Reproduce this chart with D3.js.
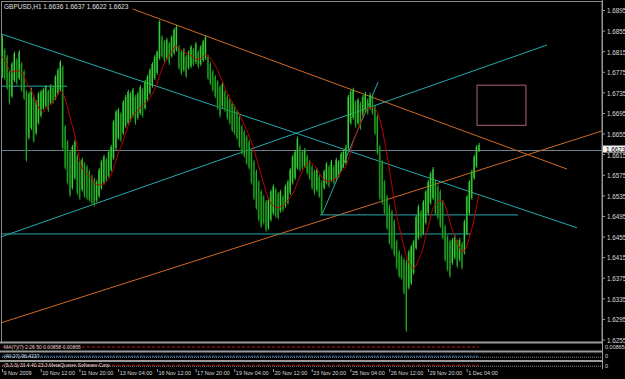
<!DOCTYPE html>
<html>
<head>
<meta charset="utf-8">
<script src="https://cdn.jsdelivr.net/npm/d3@7"></script>
<style>
  body { margin: 0; background: #000; }
  svg { display: block; }
</style>
</head>
<body>
<div id="chart"></div>
<script>
/* global d3 */
var w = 625;
var h = 379;

// GBPUSD H1, grouped by two hours (bar highs and lows)
var hi = [1.6846, 1.6821, 1.6808, 1.6779, 1.6794, 1.6814, 1.6802, 1.6817, 1.6794, 1.6779,
  1.6740, 1.6736, 1.6744, 1.6730, 1.6720, 1.6736, 1.6740, 1.6744, 1.6749, 1.6740,
  1.6751, 1.6748, 1.6769, 1.6782, 1.6798, 1.6788, 1.6672, 1.6643, 1.6623, 1.6633,
  1.6643, 1.6614, 1.6604, 1.6608, 1.6600, 1.6594, 1.6585, 1.6575, 1.6569, 1.6565,
  1.6588, 1.6604, 1.6614, 1.6608, 1.6623, 1.6633, 1.6682, 1.6701, 1.6705, 1.6697,
  1.6720, 1.6730, 1.6740, 1.6736, 1.6744, 1.6730, 1.6736, 1.6749, 1.6744, 1.6759,
  1.6769, 1.6782, 1.6794, 1.6808, 1.6817, 1.6876, 1.6846, 1.6837, 1.6841, 1.6833,
  1.6846, 1.6860, 1.6866, 1.6827, 1.6817, 1.6821, 1.6808, 1.6817, 1.6827, 1.6821,
  1.6833, 1.6817, 1.6827, 1.6837, 1.6846, 1.6808, 1.6794, 1.6779, 1.6769, 1.6759,
  1.6749, 1.6755, 1.6740, 1.6730, 1.6724, 1.6717, 1.6711, 1.6701, 1.6691, 1.6672,
  1.6662, 1.6652, 1.6643, 1.6623, 1.6604, 1.6585, 1.6565, 1.6546, 1.6536, 1.6526,
  1.6530, 1.6546, 1.6556, 1.6550, 1.6542, 1.6546, 1.6536, 1.6556, 1.6565, 1.6588,
  1.6614, 1.6623, 1.6649, 1.6633, 1.6623, 1.6627, 1.6614, 1.6604, 1.6594, 1.6585,
  1.6588, 1.6575, 1.6565, 1.6585, 1.6600, 1.6594, 1.6604, 1.6594, 1.6608, 1.6604,
  1.6619, 1.6623, 1.6633, 1.6730, 1.6740, 1.6744, 1.6720, 1.6724, 1.6717, 1.6730,
  1.6736, 1.6724, 1.6734, 1.6730, 1.6711, 1.6691, 1.6633, 1.6604, 1.6565, 1.6536,
  1.6517, 1.6507, 1.6488, 1.6449, 1.6429, 1.6420, 1.6414, 1.6410, 1.6429, 1.6439,
  1.6449, 1.6497, 1.6517, 1.6507, 1.6526, 1.6546, 1.6565, 1.6581, 1.6590, 1.6565,
  1.6556, 1.6546, 1.6526, 1.6478, 1.6458, 1.6449, 1.6452, 1.6458, 1.6449, 1.6452,
  1.6445, 1.6488, 1.6536, 1.6565, 1.6585, 1.6614, 1.6633, 1.6637];

var lo = [1.6763, 1.6759, 1.6740, 1.6711, 1.6724, 1.6755, 1.6749, 1.6759, 1.6736, 1.6720,
  1.6600, 1.6643, 1.6662, 1.6637, 1.6652, 1.6672, 1.6686, 1.6701, 1.6705, 1.6697,
  1.6711, 1.6713, 1.6720, 1.6730, 1.6736, 1.6623, 1.6585, 1.6556, 1.6532, 1.6546,
  1.6565, 1.6536, 1.6526, 1.6542, 1.6530, 1.6526, 1.6523, 1.6517, 1.6513, 1.6521,
  1.6530, 1.6546, 1.6556, 1.6561, 1.6569, 1.6581, 1.6604, 1.6623, 1.6643, 1.6639,
  1.6652, 1.6666, 1.6672, 1.6678, 1.6686, 1.6672, 1.6682, 1.6691, 1.6686, 1.6701,
  1.6717, 1.6730, 1.6744, 1.6759, 1.6769, 1.6798, 1.6802, 1.6794, 1.6798, 1.6788,
  1.6802, 1.6808, 1.6814, 1.6779, 1.6769, 1.6775, 1.6763, 1.6779, 1.6782, 1.6786,
  1.6790, 1.6782, 1.6786, 1.6794, 1.6798, 1.6759, 1.6749, 1.6736, 1.6724, 1.6701,
  1.6686, 1.6705, 1.6697, 1.6682, 1.6672, 1.6658, 1.6652, 1.6643, 1.6627, 1.6614,
  1.6608, 1.6594, 1.6585, 1.6556, 1.6526, 1.6507, 1.6484, 1.6472, 1.6478, 1.6464,
  1.6468, 1.6484, 1.6497, 1.6491, 1.6488, 1.6501, 1.6503, 1.6511, 1.6517, 1.6536,
  1.6556, 1.6565, 1.6585, 1.6581, 1.6585, 1.6588, 1.6575, 1.6565, 1.6546, 1.6536,
  1.6542, 1.6530, 1.6497, 1.6546, 1.6556, 1.6550, 1.6561, 1.6556, 1.6565, 1.6569,
  1.6581, 1.6588, 1.6594, 1.6623, 1.6672, 1.6682, 1.6666, 1.6672, 1.6662, 1.6686,
  1.6697, 1.6691, 1.6701, 1.6691, 1.6652, 1.6614, 1.6526, 1.6517, 1.6497, 1.6468,
  1.6439, 1.6429, 1.6416, 1.6391, 1.6375, 1.6371, 1.6342, 1.6270, 1.6352, 1.6361,
  1.6381, 1.6429, 1.6449, 1.6452, 1.6458, 1.6478, 1.6497, 1.6517, 1.6526, 1.6497,
  1.6488, 1.6472, 1.6449, 1.6406, 1.6387, 1.6375, 1.6400, 1.6410, 1.6394, 1.6406,
  1.6391, 1.6420, 1.6458, 1.6497, 1.6526, 1.6565, 1.6588, 1.6619];

var priceTicks = d3.range(0, 17).map(function (k) { return 1.6255 + k * 0.004; });
var timeTicks = [0, 16, 32, 48, 64, 80, 96, 112, 128, 144, 160, 176, 192];
var timeLabels = ['9 Nov 2009', '10 Nov 12:00', '11 Nov 20:00', '13 Nov 04:00', '16 Nov 12:00',
  '17 Nov 20:00', '19 Nov 04:00', '20 Nov 12:00', '23 Nov 20:00', '25 Nov 04:00',
  '26 Nov 12:00', '29 Nov 20:00', '1 Dec 04:00'];
var lastPrice = 1.6623;
var title = 'GBPUSD,H1  1.6636 1.6637 1.6622 1.6623';

// objects drawn on the chart: bar index / price pairs
var orangeLines = [
  { i1: 54, p1: 1.6897, i2: 233.5, p2: 1.6586 },
  { i1: 0, p1: 1.6288, i2: 247.9, p2: 1.6660 }
];
var cyanLines = [
  { i1: 0, p1: 1.6848, i2: 237.6, p2: 1.6472 },
  { i1: 0, p1: 1.6455, i2: 225.2, p2: 1.6827 },
  { i1: 132.2, p1: 1.6497, i2: 155.4, p2: 1.6755 },
  { i1: 0, p1: 1.6460, i2: 193.8, p2: 1.6460 },
  { i1: 131.4, p1: 1.6497, i2: 213.2, p2: 1.6497 },
  { i1: 0, p1: 1.6747, i2: 26.9, p2: 1.6747 }
];
var box = { i1: 196.3, p1: 1.6749, i2: 216.5, p2: 1.6671 };

var maPeriod = 8;

var font = 'Liberation Sans, Arial, sans-serif';

var svg = d3.select('#chart')
  .append('svg')
  .attr('width', w)
  .attr('height', h)
  .style('background', '#000');

var x = d3.scaleLinear().domain([0, 197]).range([2, 2 + 197 * 2.42]);
var y = d3.scaleLinear().domain([1.6255, 1.6895]).range([339.5, 10]);

var plotRight = 602;

// chart frame
svg.append('rect')
  .attr('x', 1.5).attr('y', 1.5)
  .attr('width', plotRight - 1.5).attr('height', 341)
  .attr('fill', 'none')
  .attr('stroke', '#8a8a8a');

var plot = svg.append('g');

// bid line
plot.append('line')
  .attr('x1', 2).attr('x2', plotRight)
  .attr('y1', Math.round(y(lastPrice)) + 0.5).attr('y2', Math.round(y(lastPrice)) + 0.5)
  .attr('stroke', '#6b7f8a');

// trend lines
plot.selectAll('line.orange')
  .data(orangeLines)
  .enter()
  .append('line')
  .attr('class', 'orange')
  .attr('x1', function (d) { return x(d.i1); })
  .attr('y1', function (d) { return y(d.p1); })
  .attr('x2', function (d) { return Math.min(x(d.i2), plotRight); })
  .attr('y2', function (d) { return y(d.p2); })
  .attr('stroke', '#cf6a24')
  .attr('stroke-width', 1);

plot.selectAll('line.cyan')
  .data(cyanLines)
  .enter()
  .append('line')
  .attr('class', 'cyan')
  .attr('x1', function (d) { return x(d.i1); })
  .attr('y1', function (d) { return y(d.p1); })
  .attr('x2', function (d) { return x(d.i2); })
  .attr('y2', function (d) { return y(d.p2); })
  .attr('stroke', '#27a9ad')
  .attr('stroke-width', 1);

plot.append('rect')
  .attr('x', x(box.i1))
  .attr('y', y(box.p1))
  .attr('width', x(box.i2) - x(box.i1))
  .attr('height', y(box.p2) - y(box.p1))
  .attr('fill', 'none')
  .attr('stroke', '#b0607c');

// price bars
var bars = hi.map(function (v, i) {
  var mid = (v + lo[i]) / 2;
  var prev = i > 0 ? (hi[i - 1] + lo[i - 1]) / 2 : mid;
  return { i: i, hi: v, lo: lo[i], up: mid >= prev };
});

var bar = plot.selectAll('g.bar')
  .data(bars)
  .enter()
  .append('g')
  .attr('class', 'bar');

bar.append('rect')
  .attr('x', function (d) { return x(d.i) - 0.8; })
  .attr('y', function (d) { return y(d.hi) + 2; })
  .attr('width', 1.6)
  .attr('height', function (d) { return Math.max(1, y(d.lo) - y(d.hi) - 4); })
  .attr('fill', function (d) { return d.up ? '#1b9a1b' : '#0d6e10'; });

bar.append('line')
  .attr('x1', function (d) { return x(d.i) + 0.4; })
  .attr('x2', function (d) { return x(d.i) + 0.4; })
  .attr('y1', function (d) { return y(d.hi); })
  .attr('y2', function (d) { return y(d.lo); })
  .attr('stroke', function (d) { return d.up ? '#46ea46' : '#2bbd2b'; })
  .attr('stroke-width', 0.8);

// moving average of bar mid prices
var ma = bars.map(function (d, i) {
  var from = Math.max(0, i - maPeriod + 1);
  var s = bars.slice(from, i + 1);
  return { i: i, v: d3.mean(s, function (b) { return (b.hi + b.lo) / 2; }) };
});

plot.append('path')
  .datum(ma)
  .attr('fill', 'none')
  .attr('stroke', '#c00000')
  .attr('stroke-width', 1)
  .attr('d', d3.line()
    .x(function (d) { return x(d.i); })
    .y(function (d) { return y(d.v); })
    .curve(d3.curveMonotoneX));

// title
svg.append('text')
  .attr('x', 4).attr('y', 8.5)
  .attr('fill', '#e0e0e0')
  .style('font-family', font)
  .style('font-size', '6.5px')
  .text(title);

// price axis
var yAxis = svg.append('g')
  .attr('transform', 'translate(' + plotRight + ',0)')
  .call(d3.axisRight(y).tickValues(priceTicks).tickSize(3).tickFormat(d3.format('.4f')));
yAxis.select('.domain').remove();
yAxis.selectAll('line').attr('stroke', '#9a9a9a');
yAxis.selectAll('text')
  .attr('x', 5)
  .attr('dy', '0.45em')
  .attr('fill', '#dcdcdc')
  .style('font-family', font)
  .style('font-size', '6.3px');

svg.append('line')
  .attr('x1', plotRight + 0.5).attr('x2', plotRight + 0.5)
  .attr('y1', 0).attr('y2', 369)
  .attr('stroke', '#9a9a9a');

// last price label, drawn over the tick label below it as in the terminal
svg.append('rect')
  .attr('x', plotRight + 1).attr('y', y(lastPrice) - 4.5)
  .attr('width', 22).attr('height', 7)
  .attr('fill', '#f4f4f4');
svg.append('text')
  .attr('x', plotRight + 4).attr('y', y(lastPrice) + 1.6)
  .attr('fill', '#000')
  .style('font-family', font)
  .style('font-size', '6.3px')
  .text(d3.format('.4f')(lastPrice));

// indicator sub-windows
var panels = [
  { top: 343, bottom: 351, label: 'MA(7)(7) 2.26 50 0.00858 0.00865', value: '0.00865' },
  { top: 352, bottom: 360.5, label: '(40 27) 96.4237', value: '0' },
  { top: 361.5, bottom: 369, label: '(5,3,3) 33.4 40 23.3 MetaQuotes Software Corp.', value: '0' }
];

var panel = svg.selectAll('g.panel')
  .data(panels)
  .enter()
  .append('g')
  .attr('class', 'panel');

panel.append('line')
  .attr('x1', 0).attr('x2', plotRight)
  .attr('y1', function (d) { return d.top - 0.5; })
  .attr('y2', function (d) { return d.top - 0.5; })
  .attr('stroke', '#9a9a9a')
  .attr('stroke-width', 2);

panel.append('line')
  .attr('x1', 2).attr('x2', plotRight)
  .attr('y1', function (d) { return (d.top + d.bottom) / 2 + 1; })
  .attr('y2', function (d) { return (d.top + d.bottom) / 2 + 1; })
  .attr('stroke', function (d, i) { return i === 0 ? 'none' : '#8a8a8a'; })
  .attr('stroke-dasharray', '1,1');

panel.append('line')
  .attr('x1', 2).attr('x2', x(197))
  .attr('y1', function (d) { return (d.top + d.bottom) / 2; })
  .attr('y2', function (d) { return (d.top + d.bottom) / 2; })
  .attr('stroke', function (d, i) { return i === 1 ? '#2b7fd0' : '#c01818'; })
  .attr('stroke-dasharray', function (d, i) { return i === 1 ? '2,1' : '3,2'; });

panel.append('text')
  .attr('x', 4)
  .attr('y', function (d) { return d.top + 5.5; })
  .attr('fill', '#cfcfcf')
  .style('font-family', font)
  .style('font-size', '5px')
  .text(function (d) { return d.label; });

panel.append('text')
  .attr('x', plotRight + 3)
  .attr('y', function (d) { return d.top + 6; })
  .attr('fill', '#dcdcdc')
  .style('font-family', font)
  .style('font-size', '5.5px')
  .text(function (d) { return d.value; });

// time axis
var xAxis = svg.append('g')
  .attr('transform', 'translate(0,369)')
  .call(d3.axisBottom(x).tickValues(timeTicks).tickSize(3)
    .tickFormat(function (d, i) { return timeLabels[i]; }));
xAxis.select('.domain').remove();
xAxis.selectAll('line').attr('stroke', '#9a9a9a');
xAxis.selectAll('text')
  .attr('text-anchor', 'start')
  .attr('x', 1)
  .attr('y', 2)
  .attr('dy', '0.71em')
  .attr('fill', '#dcdcdc')
  .style('font-family', font)
  .style('font-size', '5.5px');
</script>
</body>
</html>
